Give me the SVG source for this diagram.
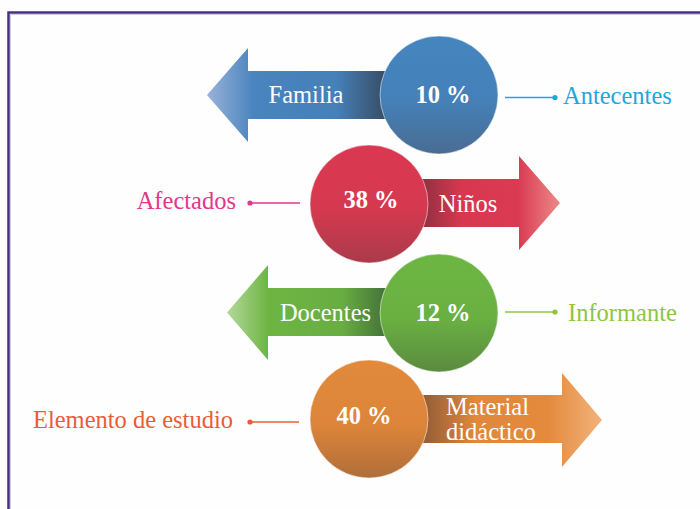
<svg xmlns="http://www.w3.org/2000/svg" width="700" height="509" viewBox="0 0 700 509">
<defs>
<linearGradient id="gBlueA" gradientUnits="userSpaceOnUse" x1="207" y1="0" x2="392" y2="0">
<stop offset="0" stop-color="#9ab2da"/><stop offset="0.25" stop-color="#4a84bf"/><stop offset="0.7" stop-color="#4580b8"/><stop offset="1" stop-color="#36465a"/>
</linearGradient>
<linearGradient id="gRedA" gradientUnits="userSpaceOnUse" x1="560" y1="0" x2="420" y2="0">
<stop offset="0" stop-color="#eb8a88"/><stop offset="0.3" stop-color="#da3a52"/><stop offset="0.7" stop-color="#d8384f"/><stop offset="1" stop-color="#8c3040"/>
</linearGradient>
<linearGradient id="gGreenA" gradientUnits="userSpaceOnUse" x1="227" y1="0" x2="392" y2="0">
<stop offset="0" stop-color="#b4d89a"/><stop offset="0.25" stop-color="#6db543"/><stop offset="0.7" stop-color="#68ad42"/><stop offset="1" stop-color="#3f6a37"/>
</linearGradient>
<linearGradient id="gOrangeA" gradientUnits="userSpaceOnUse" x1="602" y1="0" x2="420" y2="0">
<stop offset="0" stop-color="#f2b27c"/><stop offset="0.3" stop-color="#e38a3c"/><stop offset="0.7" stop-color="#e0883b"/><stop offset="1" stop-color="#8e5a36"/>
</linearGradient>
<linearGradient id="gBlueC" x1="0" y1="0" x2="0" y2="1">
<stop offset="0" stop-color="#4585bf"/><stop offset="0.55" stop-color="#4580b8"/><stop offset="1" stop-color="#4a6c92"/>
</linearGradient>
<linearGradient id="gRedC" x1="0" y1="0" x2="0" y2="1">
<stop offset="0" stop-color="#db3852"/><stop offset="0.55" stop-color="#d5394f"/><stop offset="1" stop-color="#a93b4a"/>
</linearGradient>
<linearGradient id="gGreenC" x1="0" y1="0" x2="0" y2="1">
<stop offset="0" stop-color="#6db642"/><stop offset="0.55" stop-color="#69b042"/><stop offset="1" stop-color="#5b8a3f"/>
</linearGradient>
<linearGradient id="gOrangeC" x1="0" y1="0" x2="0" y2="1">
<stop offset="0" stop-color="#e28a3b"/><stop offset="0.55" stop-color="#dc853a"/><stop offset="1" stop-color="#b06e3a"/>
</linearGradient>
</defs>
<style>
text{font-family:"Liberation Serif","Times New Roman",serif;font-size:24.5px}
.w{fill:#ffffff}
.pct{font-weight:bold;text-anchor:middle}
.circ{stroke:#ffffff;stroke-opacity:0.5;stroke-width:1}
.ln{stroke-width:1.3;fill:none}
</style>
<rect width="700" height="509" fill="#fefefe"/>
<path d="M8.5,509 V12.5 H700" fill="none" stroke="#46307f" stroke-width="2.5"/>
<path d="M10.5,509 V14.5 H700" fill="none" stroke="#c9bde0" stroke-width="0.8"/>

<g id="connectors">
<line class="ln" x1="505" y1="97.5" x2="555" y2="97.5" stroke="#1ea6dd"/><circle cx="555" cy="97.5" r="2.6" fill="#1ea6dd"/>
<line class="ln" x1="250" y1="203" x2="300" y2="203" stroke="#e2378b"/><circle cx="250" cy="203" r="2.6" fill="#e2378b"/>
<line class="ln" x1="505" y1="312" x2="555" y2="312" stroke="#8dc641"/><circle cx="555" cy="312" r="2.6" fill="#8dc641"/>
<line class="ln" x1="250" y1="422" x2="299" y2="422" stroke="#ec5b38"/><circle cx="250" cy="422" r="2.6" fill="#ec5b38"/>
</g>

<g id="node-familia">
<path d="M207,95 L248,48 V71 H395 V119 H248 V142 Z" fill="url(#gBlueA)"/>
<circle class="circ" cx="439" cy="95" r="59" fill="url(#gBlueC)"/>
<text class="w" x="306" y="103" text-anchor="middle">Familia</text>
<text class="w pct" x="443" y="103">10 %</text>
</g>
<g id="node-antecentes"><text x="563" y="104" fill="#1ea6dd">Antecentes</text></g>

<g id="node-ninos">
<path d="M410,179 H519 V156 L560,203 L519,250 V227 H410 Z" fill="url(#gRedA)"/>
<circle class="circ" cx="369" cy="204" r="59" fill="url(#gRedC)"/>
<text class="w" x="468" y="212" text-anchor="middle">Niños</text>
<text class="w pct" x="371" y="208">38 %</text>
</g>
<g id="node-afectados"><text x="236" y="209" fill="#e2378b" text-anchor="end">Afectados</text></g>

<g id="node-docentes">
<path d="M227,312.5 L268,265 V288 H395 V336 H268 V360 Z" fill="url(#gGreenA)"/>
<circle class="circ" cx="439" cy="313" r="59" fill="url(#gGreenC)"/>
<text class="w" x="325.5" y="321" text-anchor="middle">Docentes</text>
<text class="w pct" x="443" y="321">12 %</text>
</g>
<g id="node-informante"><text x="568" y="321" fill="#8dc641">Informante</text></g>

<g id="node-material">
<path d="M410,395 H562 V373 L602,420 L562,467 V443 H410 Z" fill="url(#gOrangeA)"/>
<circle class="circ" cx="369" cy="419" r="59" fill="url(#gOrangeC)"/>
<text class="w" x="446" y="415">Material</text>
<text class="w" x="446" y="440">didáctico</text>
<text class="w pct" x="364" y="424">40 %</text>
</g>
<g id="node-elemento"><text x="233" y="428" fill="#ec5b38" text-anchor="end">Elemento de estudio</text></g>
</svg>
